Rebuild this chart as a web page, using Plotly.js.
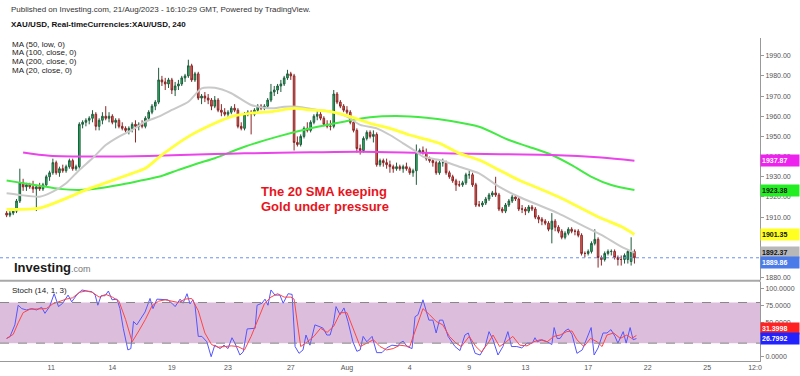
<!DOCTYPE html>
<html>
<head>
<meta charset="utf-8">
<script src="https://cdn.plot.ly/plotly-3.0.1.min.js"></script>
<style>html,body{margin:0;padding:0;background:#fff;}#chart{width:800px;height:376px;}</style>
</head>
<body>
<div id="chart"></div>
<script>
// ---- 4h candles (bar index 0..190) ----
const opens = [
1912,1911,1912,1913,1918,1927,1925,1926,1925,1924,
1925,1924,1926,1930,1932,1937,1932,1934,1933,1935,
1938,1934,1935,1956,1957,1958,1959,1961,1955,1958,
1960,1959,1960,1957,1958,1955,1954,1953,1954,1956,
1955,1956,1955,1959,1962,1965,1967,1978,1977,1976,
1978,1973,1975,1976,1979,1980,1985,1978,1981,1969,
1970,1969,1968,1965,1968,1963,1962,1961,1962,1964,
1963,1955,1954,1961,1962,1961,1963,1965,1964,1965,
1968,1972,1973,1975,1976,1979,1981,1980,1947,1946,
1950,1954,1953,1957,1960,1961,1959,1956,1955,1955,
1971,1967,1965,1963,1962,1957,1953,1944,1943,1949,
1952,1950,1951,1936,1938,1937,1936,1935,1934,1935,
1934,1935,1934,1932,1933,1942,1943,1942,1939,1938,
1937,1932,1937,1937,1932,1930,1928,1926,1926,1927,
1931,1931,1926,1916,1916,1917,1919,1921,1922,1921,
1914,1913,1916,1918,1920,1919,1914,1914,1913,1915,
1914,1910,1909,1908,1907,1904,1908,1905,1903,1900,
1902,1904,1903,1903,1901,1892,1892,1893,1897,1899,
1890,1889,1892,1893,1893,1890,1889,1889,1889,1888,
1893];
const highs = [
1913,1913,1914,1919,1934,1929,1927,1927,1928,1926,
1927,1927,1931,1933,1939,1938,1935,1936,1936,1939,
1939,1936,1957,1958,1959,1960,1963,1962,1959,1962,
1965,1962,1961,1959,1959,1957,1955,1955,1957,1958,
1957,1958,1960,1963,1966,1968,1984,1980,1979,1979,
1979,1977,1978,1980,1981,1988,1986,1982,1982,1971,
1972,1971,1969,1970,1969,1966,1964,1963,1965,1966,
1964,1957,1962,1963,1963,1964,1966,1966,1966,1969,
1976,1975,1976,1978,1980,1983,1982,1981,1950,1951,
1955,1957,1958,1961,1963,1962,1960,1958,1958,1973,
1972,1968,1966,1965,1963,1958,1954,1946,1950,1953,
1953,1953,1952,1939,1939,1939,1938,1936,1937,1936,
1936,1937,1935,1934,1946,1944,1945,1944,1940,1939,
1938,1938,1939,1938,1933,1931,1929,1928,1928,1932,
1933,1932,1927,1918,1918,1920,1922,1923,1930,1922,
1915,1917,1919,1921,1921,1920,1916,1915,1916,1916,
1915,1911,1910,1909,1908,1912,1909,1906,1904,1903,
1905,1905,1904,1904,1902,1893,1894,1898,1904,1900,
1891,1893,1894,1894,1894,1891,1891,1892,1894,1900,
1894];
const lows = [
1910,1910,1911,1912,1917,1923,1923,1924,1922,1913,
1923,1923,1925,1928,1931,1931,1930,1932,1932,1934,
1933,1933,1934,1954,1955,1956,1957,1953,1953,1956,
1958,1957,1956,1954,1954,1953,1952,1951,1952,1947,
1953,1954,1954,1958,1961,1963,1966,1975,1973,1974,
1971,1970,1973,1975,1977,1979,1977,1977,1968,1966,
1967,1966,1963,1964,1962,1960,1960,1959,1961,1962,
1954,1953,1953,1960,1951,1960,1962,1963,1963,1964,
1967,1970,1971,1972,1975,1978,1978,1943,1945,1945,
1949,1952,1952,1956,1958,1958,1955,1954,1953,1954,
1966,1964,1962,1961,1956,1952,1942,1941,1942,1948,
1949,1947,1935,1935,1935,1934,1932,1932,1933,1933,
1932,1933,1931,1930,1926,1941,1941,1938,1937,1935,
1931,1931,1935,1931,1929,1927,1923,1925,1925,1926,
1929,1925,1915,1915,1915,1916,1918,1920,1920,1913,
1912,1912,1915,1917,1918,1913,1912,1911,1912,1913,
1909,1907,1906,1906,1903,1897,1903,1902,1899,1899,
1901,1902,1901,1900,1891,1890,1891,1892,1896,1885,
1886,1888,1891,1891,1889,1886,1886,1887,1887,1886,
1887];
const closes = [
1911,1912,1913,1918,1927,1925,1926,1925,1924,1925,
1924,1926,1930,1932,1937,1932,1934,1933,1935,1938,
1934,1935,1956,1957,1958,1959,1961,1955,1958,1960,
1959,1960,1957,1958,1955,1954,1953,1954,1956,1955,
1956,1955,1959,1962,1965,1967,1978,1977,1976,1978,
1973,1975,1976,1979,1980,1985,1978,1981,1969,1970,
1969,1968,1965,1968,1963,1962,1961,1962,1964,1963,
1955,1954,1961,1962,1961,1963,1965,1964,1965,1968,
1972,1973,1975,1976,1979,1981,1980,1947,1946,1950,
1954,1953,1957,1960,1961,1959,1956,1955,1955,1971,
1967,1965,1963,1962,1957,1953,1944,1943,1949,1952,
1950,1951,1936,1938,1937,1936,1935,1934,1935,1934,
1935,1934,1932,1933,1942,1943,1942,1939,1938,1937,
1932,1937,1937,1932,1930,1928,1926,1926,1927,1931,
1931,1926,1916,1916,1917,1919,1921,1922,1921,1914,
1913,1916,1918,1920,1919,1914,1914,1913,1915,1914,
1910,1909,1908,1907,1904,1908,1905,1903,1900,1902,
1904,1903,1903,1901,1892,1892,1893,1897,1899,1890,
1889,1892,1893,1893,1890,1889,1889,1891,1893,1893,
1889.86];

// ---- moving averages (bar index, value) ----
const ma50X = [0,10,18,24,31,38,42,47,55,63,68,74,80,87,92,98,104,110,116,122,127,131,137,143,149,155,161,167,173,180,186,190];
const ma50Y = [1913.8,1914.5,1919.3,1923.5,1927.6,1931.7,1934.2,1940.8,1949.9,1956.5,1959.8,1961.5,1962.3,1963.9,1963.1,1962.3,1959.8,1956.5,1954,1950.7,1948.5,1946.6,1941.6,1938.3,1933.4,1928.4,1924.3,1920.1,1915.2,1909.4,1905.3,1901.4];
const ma100X = [0,4,10,16,22,28,34,40,46,52,58,63,72,82,92,102,110,118,127,134,143,152,158,165,171,177,183,190];
const ma100Y = [1928.1,1927.1,1925.6,1924,1923.5,1924.3,1925.9,1927.9,1930,1933.4,1936.7,1939.2,1944.9,1949.9,1954,1957.3,1959.5,1960.1,1959.3,1957.8,1954.8,1948.2,1944.9,1940.8,1935.8,1930,1925.9,1923.4];
const ma200X = [5,13,28,43,63,72,92,107,125,145,165,180,190];
const ma200Y = [1942,1940.4,1940,1940.3,1941.3,1941.6,1942.1,1942.4,1941.9,1941.3,1940.8,1939.5,1937.9];
const ma20X = [0,4,10,14,18,22,26,30,34,38,42,46,50,55,59,63,68,74,80,84,88,94,98,103,107,112,116,120,124,126,131,137,143,149,155,161,167,173,180,186,190];
const ma20Y = [1921.8,1921,1920.1,1922.6,1926.8,1933.4,1939.2,1945.7,1949.9,1953.2,1957.3,1959.8,1963.1,1967.2,1973.8,1974.1,1971.4,1965.6,1963.9,1964.7,1964.7,1963.1,1962.3,1959.8,1955.7,1954,1950.7,1946.6,1942.4,1940,1938.3,1935,1931.7,1925.1,1920.1,1916,1911.9,1906.9,1901.2,1895.4,1892.4];

// ---- stochastic (14,1,3) ----
const stochKX = [0,1,2.5,3.5,4.6,6,7.6,9.1,10.6,11.6,13,14.4,15.7,17,18.6,19.7,21.2,22.8,24.3,25.8,26.8,27.6,28.6,29.8,30.8,31.9,33.4,34.3,35.3,36.7,37.6,38.4,39.4,40.4,41.9,43.4,44.3,45.5,47.3,48.8,50,51,52.5,53.4,54.6,55.5,56.4,57,58,59.1,60.6,61.9,63,64.6,65.8,67,68.2,69.1,70.6,71.6,72.8,74.3,75.2,75.8,77.3,78.2,79.1,80,81.2,82.7,83.7,85.2,86.4,87.3,88.5,89.7,90.6,91.8,93.3,94.9,95.8,96.9,97.9,98.9,99.7,100.9,102.1,103.3,104.8,106,107,107.9,109,110.6,112,113.6,115,116.6,118.5,119,120,121.2,122.7,123.6,124.5,126,126.9,127.8,129,130,131,132,133.6,135.7,137.2,138.7,139.7,140.9,141.8,143.3,144.8,146,147.2,148.7,150.2,151.7,152.8,154.4,155.9,157.5,159.1,159.9,160.6,162,163.6,165,165.7,166.6,167.5,169,170,171.1,172.6,174.2,175.7,176.9,177.8,179,180.5,181.7,182.9,184.1,185,186.6,187.5,188.7,189.6,190.6];
const stochK = [27,29.5,47,76,71,69,71,69,73,64,74,93,74,79,91,81,91,98.5,97,96,91,76,90,90,97,84,85,71,42,10,12,52,47,54,66,86,71,85,84,84,79,74,85,79,93,78,84,76,30,30,22,0,17,12,17,12,28,20,2.5,7,41,42,42,76,79,85,76,98.5,91,91,79,93,92,15,5,10,32,17,47,44,42,32,32,49,74,62,72,52,22,8,10,30,22,30,6,6,13,17,16,20,23,15,12,59,62,84,69,54,54,35,54,54,30,15,9,32,35,17,5,2.5,15,37,25,2.5,15,37,15,15,13,20,20,28,22,25,22,18,43,27,27,38,41,33,5,10,27,43,2.5,13,35,35,40,30,20,37,20,43,25,26.8];
const stochDX = [0,2,3.5,5,7,10,12,14,16,18,20,22,24,26,28,30,32,34,36,38,40,42,44,46,48,50,52,54,56,58,60,62,64,66,68,70,72,74,76,78,80,82,84,86,87,89,91,93,95,97,99,101,103,105,107,109,111,113,115,117,119,122,124,126,128,130,132,134,136,137.6,140,142,143.7,145.7,147.2,149.2,151.2,153.2,155.3,157.5,159.5,161.5,163.6,165.6,167.5,169.5,171.1,172.6,174.7,176.7,178.7,180.2,181.7,183.7,185.7,187.7,189.2,190.6];
const stochD = [27,33,50,65,70,70,71,78,82,85,87,95,97,95,88,92,88,82,55,22,38,55,75,82,84,82,80,85,86,68,35,18,14,15,16,15,10,30,55,78,88,93,88,88,85,15,22,30,42,36,45,65,65,40,15,20,25,15,10,12,17,15,42,71,62,52,47,30,20,15,30,15,7,20,32,15,22,30,17,16,22,25,22,30,32,37,38,25,15,27,22,15,32,35,27,32,27,31.4];

// ---- axis labels (ticks hidden behind the value tags in the reference are left out) ----
const dayTickPos = [13.5,32,50,67,86,103,122,140,157,176,194,212,226.5];
const dayTickText = ['11','14','19','23','27','Aug','4','9','13','17','22','25','12:0'];
const priceTicks = [1880,1910,1920,1930,1940,1950,1960,1970,1980,1990];
const stochTicks = [0,50,75,100];

const barIdx = closes.map((_, i) => i);
const FONT = 'Liberation Sans, Arial, sans-serif';

const traces = [
  {type:'scatter', mode:'lines', x:ma100X, y:ma100Y, line:{color:'#44ea44', width:2, shape:'spline', smoothing:0.8}, hoverinfo:'skip'},
  {type:'scatter', mode:'lines', x:ma200X, y:ma200Y, line:{color:'#ea44ea', width:2, shape:'spline', smoothing:0.8}, hoverinfo:'skip'},
  {type:'scatter', mode:'lines', x:ma20X, y:ma20Y, line:{color:'#c9c9c9', width:2, shape:'spline', smoothing:0.6}, hoverinfo:'skip'},
  {type:'scatter', mode:'lines', x:ma50X, y:ma50Y, line:{color:'#ffff3a', width:2.8, shape:'spline', smoothing:0.8}, hoverinfo:'skip'},
  {type:'candlestick', x:barIdx, open:opens, high:highs, low:lows, close:closes,
   increasing:{line:{color:'#1f5c3c', width:1}, fillcolor:'#22c468'},
   decreasing:{line:{color:'#8a2626', width:1}, fillcolor:'#f2625a'},
   whiskerwidth:0, hoverinfo:'skip', xaxis:'x', yaxis:'y'},
  {type:'scatter', mode:'lines', x:stochKX, y:stochK, xaxis:'x2', yaxis:'y2', line:{color:'#5555ff', width:1}, hoverinfo:'skip'},
  {type:'scatter', mode:'lines', x:stochDX, y:stochD, xaxis:'x2', yaxis:'y2', line:{color:'#ff4444', width:1}, hoverinfo:'skip'}
];

const pY = v => (361 - v) / 323; // pixel row -> paper coordinate
function txt(text, xpix, ypix, size, color, extra) {
  return Object.assign({xref:'paper', yref:'paper', x:xpix/760, y:pY(ypix), xanchor:'left', yanchor:'middle',
    text:text, showarrow:false, font:{family:FONT, size:size, color:color}}, extra || {});
}
function tag(val, yref, bg, fg, yshift) {
  return {xref:'paper', yref:yref, x:1, y:val, xanchor:'left', yanchor:'middle', xshift:0, yshift:yshift||0,
    text:'<b>' + val.toFixed(yref === 'y' ? 2 : 4) + '</b>', showarrow:false, bgcolor:bg, width:36, height:9, borderpad:1,
    align:'left', font:{family:FONT, size:7, color:fg}};
}

const layout = {
  width:800, height:376,
  margin:{l:0, r:40, t:38, b:15},
  paper_bgcolor:'#ffffff', plot_bgcolor:'#ffffff',
  showlegend:false,
  font:{family:FONT, size:7, color:'#555'},
  xaxis:{domain:[0,1], range:[-2,228], anchor:'y', showticklabels:false, showgrid:false, zeroline:false,
         rangeslider:{visible:false}, fixedrange:true},
  yaxis:{domain:[0.2508,1], range:[1878.85,1998.77], anchor:'x', side:'right', tickvals:priceTicks, tickformat:'.2f',
         ticks:'outside', ticklen:3, tickcolor:'#999', showline:true, linecolor:'#999', linewidth:1,
         showgrid:false, zeroline:false, tickfont:{size:7, color:'#555'}},
  xaxis2:{domain:[0,1], range:[-2,228], anchor:'y2', matches:'x', tickvals:dayTickPos, ticktext:dayTickText,
          showgrid:false, zeroline:false, showline:true, linecolor:'#999', ticks:'', tickfont:{size:7, color:'#555'}},
  yaxis2:{domain:[0,0.2446], range:[-6.35,110.3], anchor:'x2', side:'right', tickvals:stochTicks, tickformat:'.4f',
          ticks:'outside', ticklen:3, tickcolor:'#999', showline:true, linecolor:'#999', linewidth:1,
          showgrid:false, zeroline:false, tickfont:{size:7, color:'#555'}},
  shapes:[
    {type:'rect', xref:'paper', yref:'y2', x0:0, x1:1, y0:20, y1:80, fillcolor:'#dcbedc', line:{width:0}, layer:'below'},
    {type:'line', xref:'paper', yref:'y2', x0:0, x1:1, y0:80, y1:80, line:{color:'#888', width:1, dash:'dash'}},
    {type:'line', xref:'paper', yref:'y2', x0:0, x1:1, y0:20, y1:20, line:{color:'#888', width:1, dash:'dash'}},
    {type:'line', xref:'paper', yref:'y', x0:0, x1:1, y0:closes[closes.length-1], y1:closes[closes.length-1], line:{color:'#6a8ff0', width:1, dash:'dot'}},
    {type:'line', xref:'paper', yref:'paper', x0:0, x1:1, y0:0.2486, y1:0.2486, line:{color:'#a8a8a8', width:2}},
    {type:'line', xref:'paper', yref:'paper', x0:1, x1:1, y0:0.2446, y1:0.2508, line:{color:'#999', width:1}}
  ],
  annotations:[
    txt('Published on Investing.com, 21/Aug/2023 - 16:10:29 GMT, Powered by TradingView.', 9, 9, 8, '#333'),
    txt('<b>XAU/USD, Real-timeCurrencies:XAU/USD, 240</b>', 9, 25, 8, '#111'),
    txt('MA (50, low, 0)', 10, 44.5, 8, '#222'),
    txt('MA (100, close, 0)', 10, 53, 8, '#222'),
    txt('MA (200, close, 0)', 10, 61.5, 8, '#222'),
    txt('MA (20, close, 0)', 10, 70, 8, '#222'),
    txt('<b>Investing</b><span style="font-size:9px;color:#777">.com</span>', 12, 267, 13, '#1a1a1a'),
    txt('<b>The 20 SMA keeping</b>', 259, 192, 13, '#e8141c'),
    txt('<b>Gold under pressure</b>', 259, 206.5, 13, '#e8141c'),
    txt('Stoch (14, 1, 3)', 10, 290.7, 8, '#222'),
    tag(1937.87, 'y', '#ee22ee', '#ffffff', 0),
    tag(1923.38, 'y', '#22ee22', '#111111', 0),
    tag(1901.35, 'y', '#ffff22', '#111111', 0),
    tag(1892.37, 'y', '#b8b8b8', '#111111', 0),
    tag(closes[closes.length-1], 'y', '#4b7be8', '#ffffff', -5),
    tag(31.3998, 'y2', '#ff2222', '#ffffff', 7),
    tag(26.7992, 'y2', '#2222ff', '#ffffff', 0)
  ]
};

Plotly.newPlot('chart', traces, layout, {staticPlot:true, displayModeBar:false});
</script>
</body>
</html>
